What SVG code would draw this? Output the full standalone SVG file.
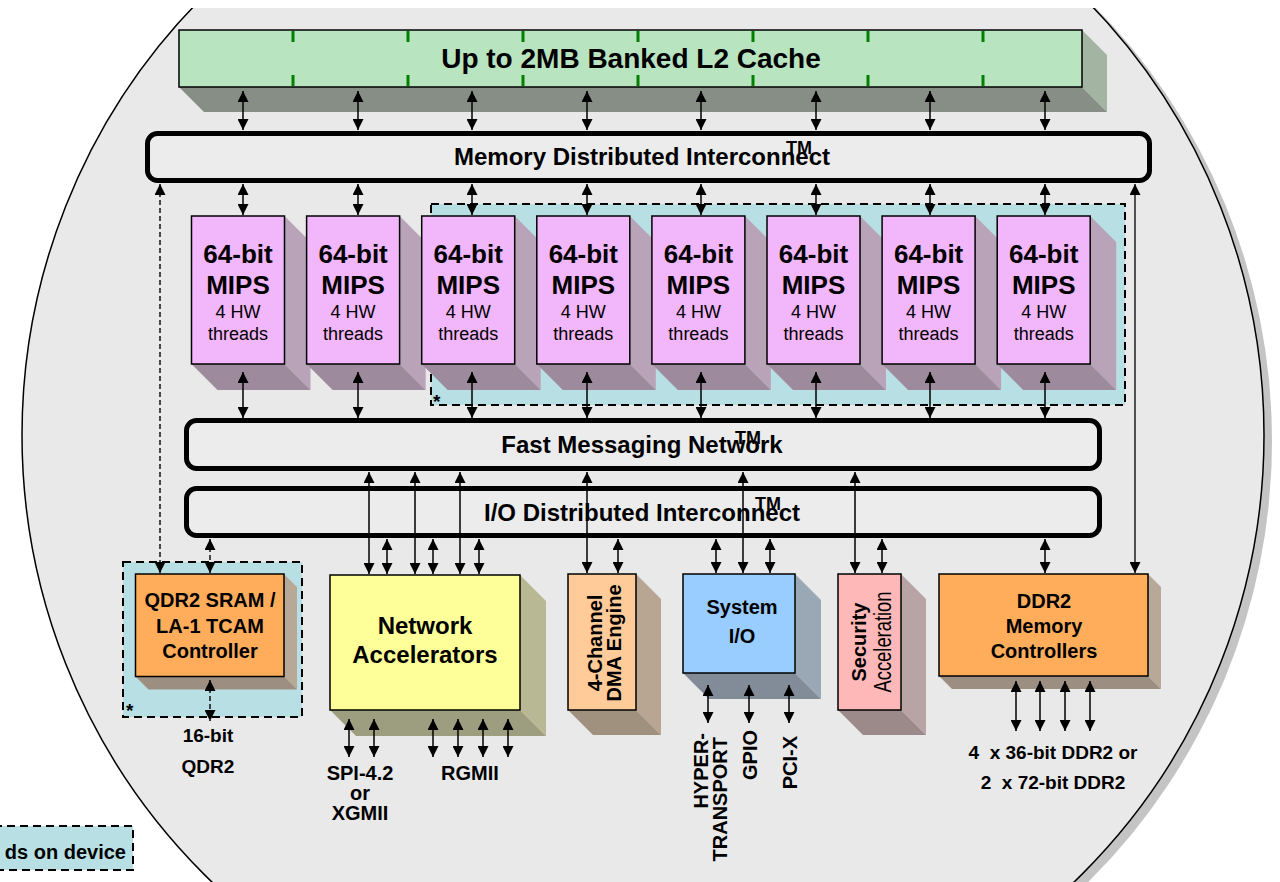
<svg xmlns="http://www.w3.org/2000/svg" width="1280" height="882" viewBox="0 0 1280 882">
<style>
text{font-family:"Liberation Sans",Arial,Helvetica,sans-serif;fill:#000}
.b{font-weight:bold}
.box{stroke:#000;stroke-width:1.5}
.bar{fill:#ececec;stroke:#000;stroke-width:5}
.c{stroke:#000;stroke-width:1.5;fill:none}
.a2{marker-start:url(#ah);marker-end:url(#ah)}
.d{stroke-dasharray:5 3;stroke-width:1.4}
.zone{fill:#b8e0e4;stroke:#000;stroke-width:2;stroke-dasharray:8 5}
.tick{stroke:#008000;stroke-width:3}
.mips{fill:#f2b6fa}
.mr{fill:#b8a3b9}
.mb{fill:#9d8b9d}
</style>
<defs>
<marker id="ah" viewBox="0 0 10 10" refX="10" refY="5" markerWidth="11" markerHeight="11" markerUnits="userSpaceOnUse" orient="auto-start-reverse"><path d="M0,0 L10,5 L0,10 z" fill="#000"/></marker>
</defs>
<rect width="1280" height="882" fill="#fff"/>
<g id="wafer">
<circle cx="651" cy="441" r="621" fill="#c4c4c4"/>
<circle cx="643" cy="435" r="621" fill="#e9e9e9" stroke="#000" stroke-width="1.5"/>
<rect x="0" y="0" width="1280" height="8" fill="#fff"/>
</g>

<g id="l2cache">
<polygon points="1082,30 1107,55 1107,112 1082,87" fill="#a3b4a3"/>
<polygon points="179,87 1082,87 1107,112 204,112" fill="#868e86"/>
<rect x="179" y="30" width="903" height="57" fill="#b8e4c0" class="box"/>
<g class="tick">
<line x1="293" y1="31" x2="293" y2="42"/><line x1="293" y1="75" x2="293" y2="86"/>
<line x1="408" y1="31" x2="408" y2="42"/><line x1="408" y1="75" x2="408" y2="86"/>
<line x1="523" y1="31" x2="523" y2="42"/><line x1="523" y1="75" x2="523" y2="86"/>
<line x1="638" y1="31" x2="638" y2="42"/><line x1="638" y1="75" x2="638" y2="86"/>
<line x1="753" y1="31" x2="753" y2="42"/><line x1="753" y1="75" x2="753" y2="86"/>
<line x1="868" y1="31" x2="868" y2="42"/><line x1="868" y1="75" x2="868" y2="86"/>
<line x1="983" y1="31" x2="983" y2="42"/><line x1="983" y1="75" x2="983" y2="86"/>
</g>
<text x="631" y="68" font-size="28" class="b" text-anchor="middle">Up to 2MB Banked L2 Cache</text>
</g>

<g id="mdi">
<rect x="147.5" y="133.5" width="1002" height="47" rx="10" class="bar"/>
<text x="642" y="165" font-size="24" class="b" text-anchor="middle">Memory Distributed Interconnect</text>
<text x="786" y="154" font-size="18" class="b">TM</text>
</g>

<g id="threads-zone">
<rect x="431" y="204" width="694" height="201" class="zone"/>
<text x="433" y="408" font-size="19" class="b">*</text>
</g>

<g id="mips1" transform="translate(191.5,216)">
<polygon points="93,0 119,26 119,174 93,148" class="mr"/><polygon points="0,148 93,148 119,174 26,174" class="mb"/>
<rect width="93" height="148" class="mips box"/>
<text x="46.5" y="47" font-size="26" class="b" text-anchor="middle">64-bit</text>
<text x="46.5" y="78" font-size="26" class="b" text-anchor="middle">MIPS</text>
<text x="46.5" y="102" font-size="18" text-anchor="middle">4 HW</text>
<text x="46.5" y="124" font-size="18" text-anchor="middle">threads</text>
</g>
<g id="mips2" transform="translate(306.6,216)">
<polygon points="93,0 119,26 119,174 93,148" class="mr"/><polygon points="0,148 93,148 119,174 26,174" class="mb"/>
<rect width="93" height="148" class="mips box"/>
<text x="46.5" y="47" font-size="26" class="b" text-anchor="middle">64-bit</text>
<text x="46.5" y="78" font-size="26" class="b" text-anchor="middle">MIPS</text>
<text x="46.5" y="102" font-size="18" text-anchor="middle">4 HW</text>
<text x="46.5" y="124" font-size="18" text-anchor="middle">threads</text>
</g>
<g id="mips3" transform="translate(421.7,216)">
<polygon points="93,0 119,26 119,174 93,148" class="mr"/><polygon points="0,148 93,148 119,174 26,174" class="mb"/>
<rect width="93" height="148" class="mips box"/>
<text x="46.5" y="47" font-size="26" class="b" text-anchor="middle">64-bit</text>
<text x="46.5" y="78" font-size="26" class="b" text-anchor="middle">MIPS</text>
<text x="46.5" y="102" font-size="18" text-anchor="middle">4 HW</text>
<text x="46.5" y="124" font-size="18" text-anchor="middle">threads</text>
</g>
<g id="mips4" transform="translate(536.8,216)">
<polygon points="93,0 119,26 119,174 93,148" class="mr"/><polygon points="0,148 93,148 119,174 26,174" class="mb"/>
<rect width="93" height="148" class="mips box"/>
<text x="46.5" y="47" font-size="26" class="b" text-anchor="middle">64-bit</text>
<text x="46.5" y="78" font-size="26" class="b" text-anchor="middle">MIPS</text>
<text x="46.5" y="102" font-size="18" text-anchor="middle">4 HW</text>
<text x="46.5" y="124" font-size="18" text-anchor="middle">threads</text>
</g>
<g id="mips5" transform="translate(651.9,216)">
<polygon points="93,0 119,26 119,174 93,148" class="mr"/><polygon points="0,148 93,148 119,174 26,174" class="mb"/>
<rect width="93" height="148" class="mips box"/>
<text x="46.5" y="47" font-size="26" class="b" text-anchor="middle">64-bit</text>
<text x="46.5" y="78" font-size="26" class="b" text-anchor="middle">MIPS</text>
<text x="46.5" y="102" font-size="18" text-anchor="middle">4 HW</text>
<text x="46.5" y="124" font-size="18" text-anchor="middle">threads</text>
</g>
<g id="mips6" transform="translate(767,216)">
<polygon points="93,0 119,26 119,174 93,148" class="mr"/><polygon points="0,148 93,148 119,174 26,174" class="mb"/>
<rect width="93" height="148" class="mips box"/>
<text x="46.5" y="47" font-size="26" class="b" text-anchor="middle">64-bit</text>
<text x="46.5" y="78" font-size="26" class="b" text-anchor="middle">MIPS</text>
<text x="46.5" y="102" font-size="18" text-anchor="middle">4 HW</text>
<text x="46.5" y="124" font-size="18" text-anchor="middle">threads</text>
</g>
<g id="mips7" transform="translate(882.1,216)">
<polygon points="93,0 119,26 119,174 93,148" class="mr"/><polygon points="0,148 93,148 119,174 26,174" class="mb"/>
<rect width="93" height="148" class="mips box"/>
<text x="46.5" y="47" font-size="26" class="b" text-anchor="middle">64-bit</text>
<text x="46.5" y="78" font-size="26" class="b" text-anchor="middle">MIPS</text>
<text x="46.5" y="102" font-size="18" text-anchor="middle">4 HW</text>
<text x="46.5" y="124" font-size="18" text-anchor="middle">threads</text>
</g>
<g id="mips8" transform="translate(997.2,216)">
<polygon points="93,0 119,26 119,174 93,148" class="mr"/><polygon points="0,148 93,148 119,174 26,174" class="mb"/>
<rect width="93" height="148" class="mips box"/>
<text x="46.5" y="47" font-size="26" class="b" text-anchor="middle">64-bit</text>
<text x="46.5" y="78" font-size="26" class="b" text-anchor="middle">MIPS</text>
<text x="46.5" y="102" font-size="18" text-anchor="middle">4 HW</text>
<text x="46.5" y="124" font-size="18" text-anchor="middle">threads</text>
</g>

<g id="fmn">
<rect x="186.5" y="420.5" width="913" height="48" rx="10" class="bar"/>
<text x="642" y="453" font-size="24" class="b" text-anchor="middle">Fast Messaging Network</text>
<text x="735" y="444" font-size="18" class="b">TM</text>
</g>

<g id="iodi">
<rect x="186.5" y="488.5" width="913" height="47" rx="10" class="bar"/>
<text x="642" y="521" font-size="24" class="b" text-anchor="middle">I/O Distributed Interconnect</text>
<text x="755" y="510" font-size="18" class="b">TM</text>
</g>

<g id="qdr">
<rect x="123" y="562" width="179" height="155" class="zone"/>
<text x="126" y="717" font-size="19" class="b">*</text>
<polygon points="284,574 297,587 297,689.5 284,676.5" fill="#b8a898"/>
<polygon points="135.5,676.5 284,676.5 297,689.5 148.5,689.5" fill="#9c8e80"/>
<rect x="135.5" y="574" width="148.5" height="102.5" fill="#ffad5b" class="box"/>
<text x="210" y="607" font-size="20" class="b" text-anchor="middle">QDR2 SRAM /</text>
<text x="210" y="633" font-size="20" class="b" text-anchor="middle">LA-1 TCAM</text>
<text x="210" y="658" font-size="20" class="b" text-anchor="middle">Controller</text>
<text x="208" y="742" font-size="19" class="b" text-anchor="middle">16-bit</text>
<text x="208" y="773" font-size="19" class="b" text-anchor="middle">QDR2</text>
</g>

<g id="netacc">
<polygon points="520,575 546,601 546,736 520,710" fill="#b8b894"/>
<polygon points="330,710 520,710 546,736 356,736" fill="#9d9d80"/>
<rect x="330" y="575" width="190" height="135" fill="#ffff99" class="box"/>
<text x="425" y="634" font-size="24" class="b" text-anchor="middle">Network</text>
<text x="425" y="663" font-size="24" class="b" text-anchor="middle">Accelerators</text>
<text x="360" y="780" font-size="20" class="b" text-anchor="middle">SPI-4.2</text>
<text x="360" y="800" font-size="20" class="b" text-anchor="middle">or</text>
<text x="360" y="820" font-size="20" class="b" text-anchor="middle">XGMII</text>
<text x="470" y="780" font-size="20" class="b" text-anchor="middle">RGMII</text>
</g>

<g id="dma">
<polygon points="636,574 661,599 661,735 636,710" fill="#b8a592"/>
<polygon points="568,710 636,710 661,735 593,735" fill="#a0907e"/>
<rect x="568" y="574" width="68" height="136" fill="#ffcc99" class="box"/>
<text transform="translate(602,643) rotate(-90)" font-size="20" class="b" text-anchor="middle">4-Channel</text>
<text transform="translate(621,643) rotate(-90)" font-size="20" class="b" text-anchor="middle">DMA Engine</text>
</g>

<g id="sysio">
<polygon points="795,574 821,600 821,699 795,673" fill="#9aa8b6"/>
<polygon points="683,673 795,673 821,699 709,699" fill="#828c98"/>
<rect x="683" y="574" width="112" height="99" fill="#99ccff" class="box"/>
<text x="742" y="614" font-size="20" class="b" text-anchor="middle">System</text>
<text x="742" y="643" font-size="20" class="b" text-anchor="middle">I/O</text>
<text transform="translate(708,733) rotate(-90)" font-size="20" class="b" text-anchor="end">HYPER-</text>
<text transform="translate(727,737) rotate(-90)" font-size="20" class="b" text-anchor="end">TRANSPORT</text>
<text transform="translate(757,730) rotate(-90)" font-size="20" class="b" text-anchor="end">GPIO</text>
<text transform="translate(797,736) rotate(-90)" font-size="20" class="b" text-anchor="end">PCI-X</text>
</g>

<g id="security">
<polygon points="901,574 926,599 926,735 901,710" fill="#b8a4a4"/>
<polygon points="838,710 901,710 926,735 863,735" fill="#9c8a8a"/>
<rect x="838" y="574" width="63" height="136" fill="#ffb8b8" class="box"/>
<text transform="translate(866,642) rotate(-90)" font-size="20" class="b" text-anchor="middle">Security</text>
<text transform="translate(891,642) rotate(-90)" font-size="23" text-anchor="middle" textLength="101" lengthAdjust="spacingAndGlyphs">Acceleration</text>
</g>

<g id="ddr2">
<polygon points="1148,574 1161,587 1161,689 1148,676" fill="#b8a898"/>
<polygon points="939,676 1148,676 1161,689 952,689" fill="#9c8e80"/>
<rect x="939" y="574" width="209" height="102" fill="#ffad5b" class="box"/>
<text x="1044" y="608" font-size="20" class="b" text-anchor="middle">DDR2</text>
<text x="1044" y="633" font-size="20" class="b" text-anchor="middle">Memory</text>
<text x="1044" y="658" font-size="20" class="b" text-anchor="middle">Controllers</text>
<text x="1053" y="759" font-size="19" class="b" text-anchor="middle" style="white-space:pre">4  x 36-bit DDR2 or</text>
<text x="1053" y="789" font-size="19" class="b" text-anchor="middle" style="white-space:pre">2  x 72-bit DDR2</text>
</g>

<g id="legend">
<rect x="-6" y="826" width="139" height="44" class="zone"/>
<text x="126" y="859" font-size="20" class="b" text-anchor="end">ds on device</text>
</g>

<g id="connectors" class="c">
<line x1="243" y1="91" x2="243" y2="130" class="a2"/>
<line x1="358" y1="91" x2="358" y2="130" class="a2"/>
<line x1="472" y1="91" x2="472" y2="130" class="a2"/>
<line x1="587" y1="91" x2="587" y2="130" class="a2"/>
<line x1="701" y1="91" x2="701" y2="130" class="a2"/>
<line x1="816" y1="91" x2="816" y2="130" class="a2"/>
<line x1="930" y1="91" x2="930" y2="130" class="a2"/>
<line x1="1045" y1="91" x2="1045" y2="130" class="a2"/>
<line x1="243" y1="184" x2="243" y2="215" class="a2"/>
<line x1="358" y1="184" x2="358" y2="215" class="a2"/>
<line x1="472" y1="184" x2="472" y2="215" class="a2"/>
<line x1="587" y1="184" x2="587" y2="215" class="a2"/>
<line x1="701" y1="184" x2="701" y2="215" class="a2"/>
<line x1="816" y1="184" x2="816" y2="215" class="a2"/>
<line x1="930" y1="184" x2="930" y2="215" class="a2"/>
<line x1="1045" y1="184" x2="1045" y2="215" class="a2"/>
<line x1="243" y1="372" x2="243" y2="418" class="a2"/>
<line x1="358" y1="372" x2="358" y2="418" class="a2"/>
<line x1="472" y1="372" x2="472" y2="418" class="a2"/>
<line x1="587" y1="372" x2="587" y2="418" class="a2"/>
<line x1="701" y1="372" x2="701" y2="418" class="a2"/>
<line x1="816" y1="372" x2="816" y2="418" class="a2"/>
<line x1="930" y1="372" x2="930" y2="418" class="a2"/>
<line x1="1045" y1="372" x2="1045" y2="418" class="a2"/>
<line x1="369" y1="472" x2="369" y2="574" class="a2"/>
<line x1="415" y1="472" x2="415" y2="574" class="a2"/>
<line x1="460" y1="472" x2="460" y2="574" class="a2"/>
<line x1="587" y1="472" x2="587" y2="573" class="a2"/>
<line x1="743" y1="472" x2="743" y2="573" class="a2"/>
<line x1="855" y1="472" x2="855" y2="573" class="a2"/>
<line x1="387" y1="539" x2="387" y2="574" class="a2"/>
<line x1="433" y1="539" x2="433" y2="574" class="a2"/>
<line x1="479" y1="539" x2="479" y2="574" class="a2"/>
<line x1="618" y1="539" x2="618" y2="573" class="a2"/>
<line x1="716" y1="539" x2="716" y2="573" class="a2"/>
<line x1="770" y1="539" x2="770" y2="573" class="a2"/>
<line x1="882" y1="539" x2="882" y2="573" class="a2"/>
<line x1="1045" y1="539" x2="1045" y2="573" class="a2"/>
<line x1="1135" y1="184" x2="1135" y2="573" class="a2" stroke-width="1.3"/>
<line x1="160" y1="184" x2="160" y2="573" class="a2 d"/>
<line x1="210" y1="539" x2="210" y2="573" class="a2 d"/>
<line x1="210" y1="680" x2="210" y2="721" class="a2 d"/>
<line x1="349" y1="719" x2="349" y2="757" class="a2"/>
<line x1="374" y1="719" x2="374" y2="757" class="a2"/>
<line x1="433" y1="719" x2="433" y2="757" class="a2"/>
<line x1="458" y1="719" x2="458" y2="757" class="a2"/>
<line x1="483" y1="719" x2="483" y2="757" class="a2"/>
<line x1="508" y1="719" x2="508" y2="757" class="a2"/>
<line x1="708" y1="685" x2="708" y2="723" class="a2"/>
<line x1="749" y1="685" x2="749" y2="723" class="a2"/>
<line x1="789" y1="685" x2="789" y2="723" class="a2"/>
<line x1="1016" y1="681" x2="1016" y2="731" class="a2"/>
<line x1="1040" y1="681" x2="1040" y2="731" class="a2"/>
<line x1="1065" y1="681" x2="1065" y2="731" class="a2"/>
<line x1="1090" y1="681" x2="1090" y2="731" class="a2"/>
</g>
</svg>
